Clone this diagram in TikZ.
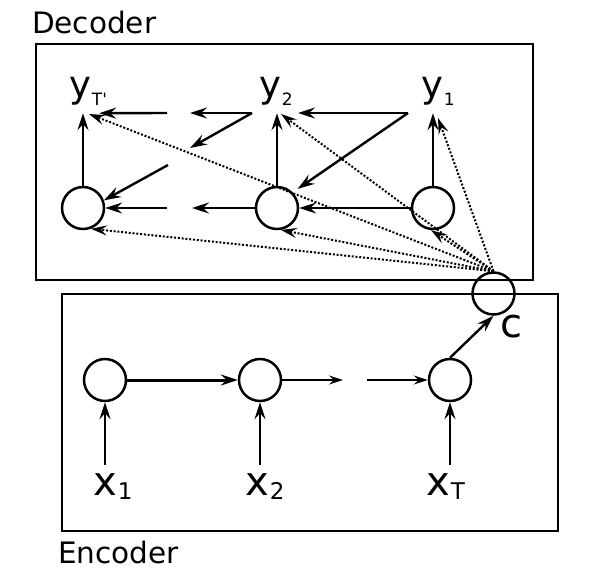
\documentclass[tikz,border=0pt]{standalone}
\usepackage{fontspec}
\setmainfont{DejaVu Sans}
\usetikzlibrary{arrows.meta,positioning}

\newcommand{\ylab}[1]{y\rlap{\kern1pt\raisebox{-8pt}{\fontsize{17}{17}\selectfont #1}}}
\newcommand{\xlab}[1]{x\rlap{\kern1pt\raisebox{-4pt}{\fontsize{23}{23}\selectfont #1}}}

\begin{document}
\begin{tikzpicture}[x=1pt, y=-1pt,
    unit/.style={circle, draw, line width=2.5pt, minimum size=42pt, inner sep=0pt},
    frame/.style={draw, line width=2.2pt, inner sep=0pt},
    var/.style={inner sep=8pt, anchor=base},
    title/.style={inner sep=0pt, font=\fontsize{29.5}{29.5}\selectfont},
    link/.style={-{Stealth[length=17pt,width=11pt,inset=6pt]}, line width=2.4pt},
    thinlink/.style={-{Stealth[length=14pt,width=9pt,inset=5pt]}, line width=1.6pt},
    attn/.style={-{Stealth[length=16pt,width=10pt,inset=6pt]}, dash pattern=on 2pt off 1.8pt, line width=2pt}]
    \useasboundingbox (0,0) rectangle (591,582);

    \node[frame, minimum width=497pt, minimum height=236pt] (dec) at (284.5,162) {};
    \node[frame, minimum width=496pt, minimum height=237pt] (enc) at (310,412.5) {};
    \node[title, above right=9pt and -3pt of dec.north west] {Decoder};
    \node[title, below right=9pt and -3pt of enc.south west] {Encoder};

    % decoder
    \node[unit] (d1) at (83,208) {};
    \node[unit] (d2) at (277,208) {};
    \node[unit] (d3) at (433,208) {};
    \node[var, font=\fontsize{37}{37}\selectfont] (yT) at (80,97) {\ylab{T\textquotesingle}};
    \node[var, font=\fontsize{37}{37}\selectfont] (y2) at (270,97) {\ylab{2}};
    \node[var, font=\fontsize{37}{37}\selectfont] (y1) at (432,97) {\ylab{1}};

    % encoder
    \node[unit] (e1) at (105,380) {};
    \node[unit] (e2) at (260,380) {};
    \node[unit] (e3) at (450,380) {};
    \node[var, font=\fontsize{40}{40}\selectfont] (x1) at (105,495) {\xlab{1}};
    \node[var, font=\fontsize{40}{40}\selectfont] (x2) at (257,495) {\xlab{2}};
    \node[var, font=\fontsize{40}{40}\selectfont] (xT) at (438,495) {\xlab{T}};

    \node[unit] (c) at (493.5,293.5) {};
    \node[inner sep=0pt, anchor=base west, font=\fontsize{40}{40}\selectfont] (cl) at (500,337) {c};

    % gaps of the unrolled loops
    \coordinate (a1) at (408,113);
    \coordinate (a2) at (298,113);
    \coordinate (b1) at (252,113);
    \coordinate (b2) at (190,113);
    \coordinate (b3) at (190,148);
    \coordinate (b4) at (167,113);
    \coordinate (b5) at (168,165);
    \coordinate (h1) at (192,208);
    \coordinate (h2) at (167,208);
    \coordinate (f1) at (343,380);
    \coordinate (f2) at (367,380);
    \coordinate (pT) at (89,114);
    \coordinate (p2) at (281,114);
    \coordinate (p1) at (438,118);

    \draw[link] (d1.north) -- (d1 |- yT.south);
    \draw[link] (d2.north) -- (d2 |- y2.south);
    \draw[link] (d3.north) -- (d3 |- y1.south);
    \draw[link] (a1) -- (a2);
    \draw[link, shorten >=6pt] (a1) -- (d2.45);
    \draw[link] (b1) -- (b2);
    \draw[link] (b1) -- (b3);
    \draw[link] (b4) -- (yT.south east);
    \draw[link] (b5) -- (d1.20);
    \draw[link] (d3) -- (d2);
    \draw[link] (d2.west) -- (h1);
    \draw[link] (h2) -- (d1.east);

    \foreach \t in {pT, p2, p1, d1.-69, d2.-80, d3.-95}
        \draw[attn] (c.north) -- (\t);

    \draw[link, line width=3pt] (e1) -- (e2);
    \draw[thinlink] (e2) -- (f1);
    \draw[thinlink] (f2) -- (e3);
    \draw[link] (e3.north) -- (c.south);
    \draw[link] (e1 |- x1.north) -- (e1.south);
    \draw[link] (e2 |- x2.north) -- (e2.south);
    \draw[link] (e3 |- xT.north) -- (e3.south);
\end{tikzpicture}
\end{document}
